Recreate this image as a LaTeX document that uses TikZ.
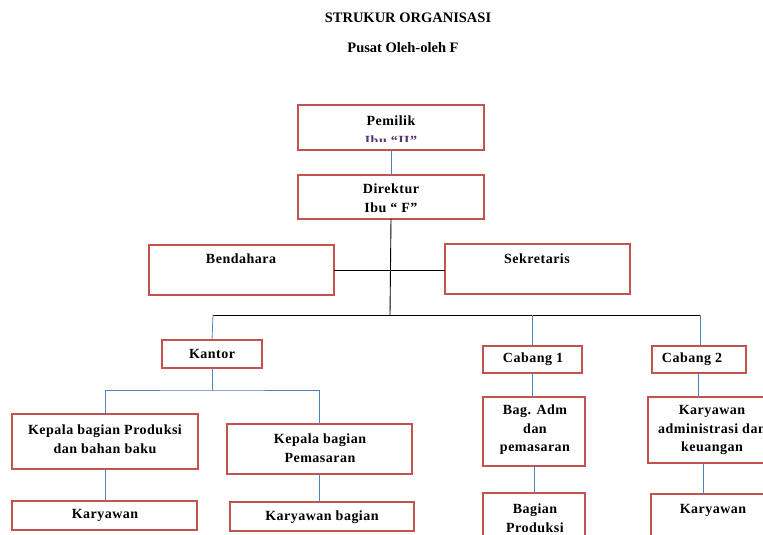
\documentclass[tikz,border=0pt]{standalone}
\usepackage{fontspec}
\setmainfont{Liberation Serif}
\newfontfamily\boxfont[LetterSpace=3.5]{Liberation Serif}
\definecolor{boxred}{RGB}{195,82,80}
\definecolor{linkblue}{RGB}{79,129,189}
\definecolor{clipped}{RGB}{80,50,110}
\tikzset{
  box/.style={draw=boxred, line width=2.6pt, fill=white, inner sep=0pt, outer sep=0pt},
  txt/.style={font=\boxfont\bfseries\fontsize{14}{18.5}\selectfont, align=center, inner sep=0pt, text=black},
  ttl/.style={font=\bfseries\fontsize{14.5}{16}\selectfont, inner sep=0pt},
  bl/.style={draw=linkblue, line width=0.8pt},
  bk/.style={draw=black, line width=0.9pt},
}
\newcommand\mybox[5]{\node[box, minimum width={(#4-#2)*1pt}, minimum height={(#5-#3)*1pt}] (#1) at ({(#2+#4)/2},{(#3+#5)/2}) {};}
\begin{document}
\begin{tikzpicture}[x=1pt,y=-1pt]
\useasboundingbox (0,0) rectangle (763,535);
\clip (0,0) rectangle (763,535);
\fill[white] (0,0) rectangle (763,535);

\node[ttl] (t1) at (408,18) {STRUKUR ORGANISASI};
\node[ttl] (t2) at (403,48) {Pusat Oleh-oleh F};

% boxes
\mybox{pemilik}{298}{105}{484}{150}
\mybox{direktur}{298}{175}{484}{219}
\mybox{bendahara}{149}{245}{334}{295}
\mybox{sekretaris}{445}{244}{630}{294}
\mybox{kantor}{162}{340}{262}{368}
\mybox{kp1}{12}{414}{198}{469}
\mybox{kp2}{227}{424}{412}{474}
\mybox{kar1}{12}{501}{197}{530}
\mybox{kar2}{230}{502}{414}{531}
\mybox{cab1}{483}{346}{582}{373}
\mybox{adm1}{483}{397}{585}{466}
\mybox{prod1}{483}{493}{585}{548}
\mybox{cab2}{652}{346}{746}{373}
\mybox{adm2}{648}{397}{777}{463}
\mybox{kar3}{651}{494}{776}{548}

% texts
\node[txt] (tpem) at (391,121) {Pemilik};
\begin{scope}
\clip (300,107) rectangle (482,141.5);
\node[txt, text=clipped, anchor=base] (tibu) at (391,145) {Ibu “II”};
\end{scope}
\node[txt] (tdir) at (391,198) {Direktur\\Ibu “ F”};
\node[txt] (tben) at (241,259) {Bendahara};
\node[txt] (tsek) at (537,259) {Sekretaris};
\node[txt] (tkan) at (212,354) {Kantor};
\node[txt] (tkp1) at (105,439) {Kepala bagian Produksi\\dan bahan baku};
\node[txt] (tkp2) at (320,448) {Kepala bagian\\Pemasaran};
\node[txt] (tkar1) at (105,515) {Karyawan};
\node[txt] (tkar2) at (322,517) {Karyawan bagian};
\node[txt] (tcab1) at (533,359) {Cabang 1};
\node[txt] (tadm1) at (535,430) {Bag. Adm\\dan\\pemasaran};
\node[txt] (tprod1) at (535,518) {Bagian\\Produksi};
\node[txt] (tcab2) at (692,359) {Cabang 2};
\node[txt] (tadm2) at (712,430) {Karyawan\\administrasi dan\\keuangan};
\node[txt] (tkar3) at (713,510) {Karyawan};

% coordinates
\coordinate (bar) at (390,315);
\coordinate (barL) at (213,315);
\coordinate (barR) at (700,315);
\coordinate (kj) at (212,390);
\coordinate (c2a) at (698,373);
\coordinate (c2b) at (698,397);
\coordinate (a2a) at (703,463);
\coordinate (a2b) at (703,494);

% connectors
\draw[bl] (pemilik.south) -- (direktur.north);
\draw[bk] (direktur.south) -- (bar);
\draw[bk] (bendahara.east) -- (bendahara.east -| sekretaris.west);
\draw[bk] (barL) -- (barR);
\draw[bl] (barL) -- (kantor.north);
\draw[bl] (barL -| cab1.north) -- (cab1.north);
\draw[bl] (barR) -- (barR |- cab2.north);
\draw[bl] (kantor.south) -- (kj);
\draw[bl] (kp1.north) |- (kj) -| (kp2.north);
\draw[bl] (kp1.south) -- (kar1.north -| kp1.south);
\draw[bl] (kp2.south) -- (kar2.north -| kp2.south);
\draw[bl] (cab1.south) -- (adm1.north -| cab1.south);
\draw[bl] (adm1.south) -- (prod1.north);
\draw[bl] (c2a) -- (c2b);
\draw[bl] (a2a) -- (a2b);
\end{tikzpicture}
\end{document}
